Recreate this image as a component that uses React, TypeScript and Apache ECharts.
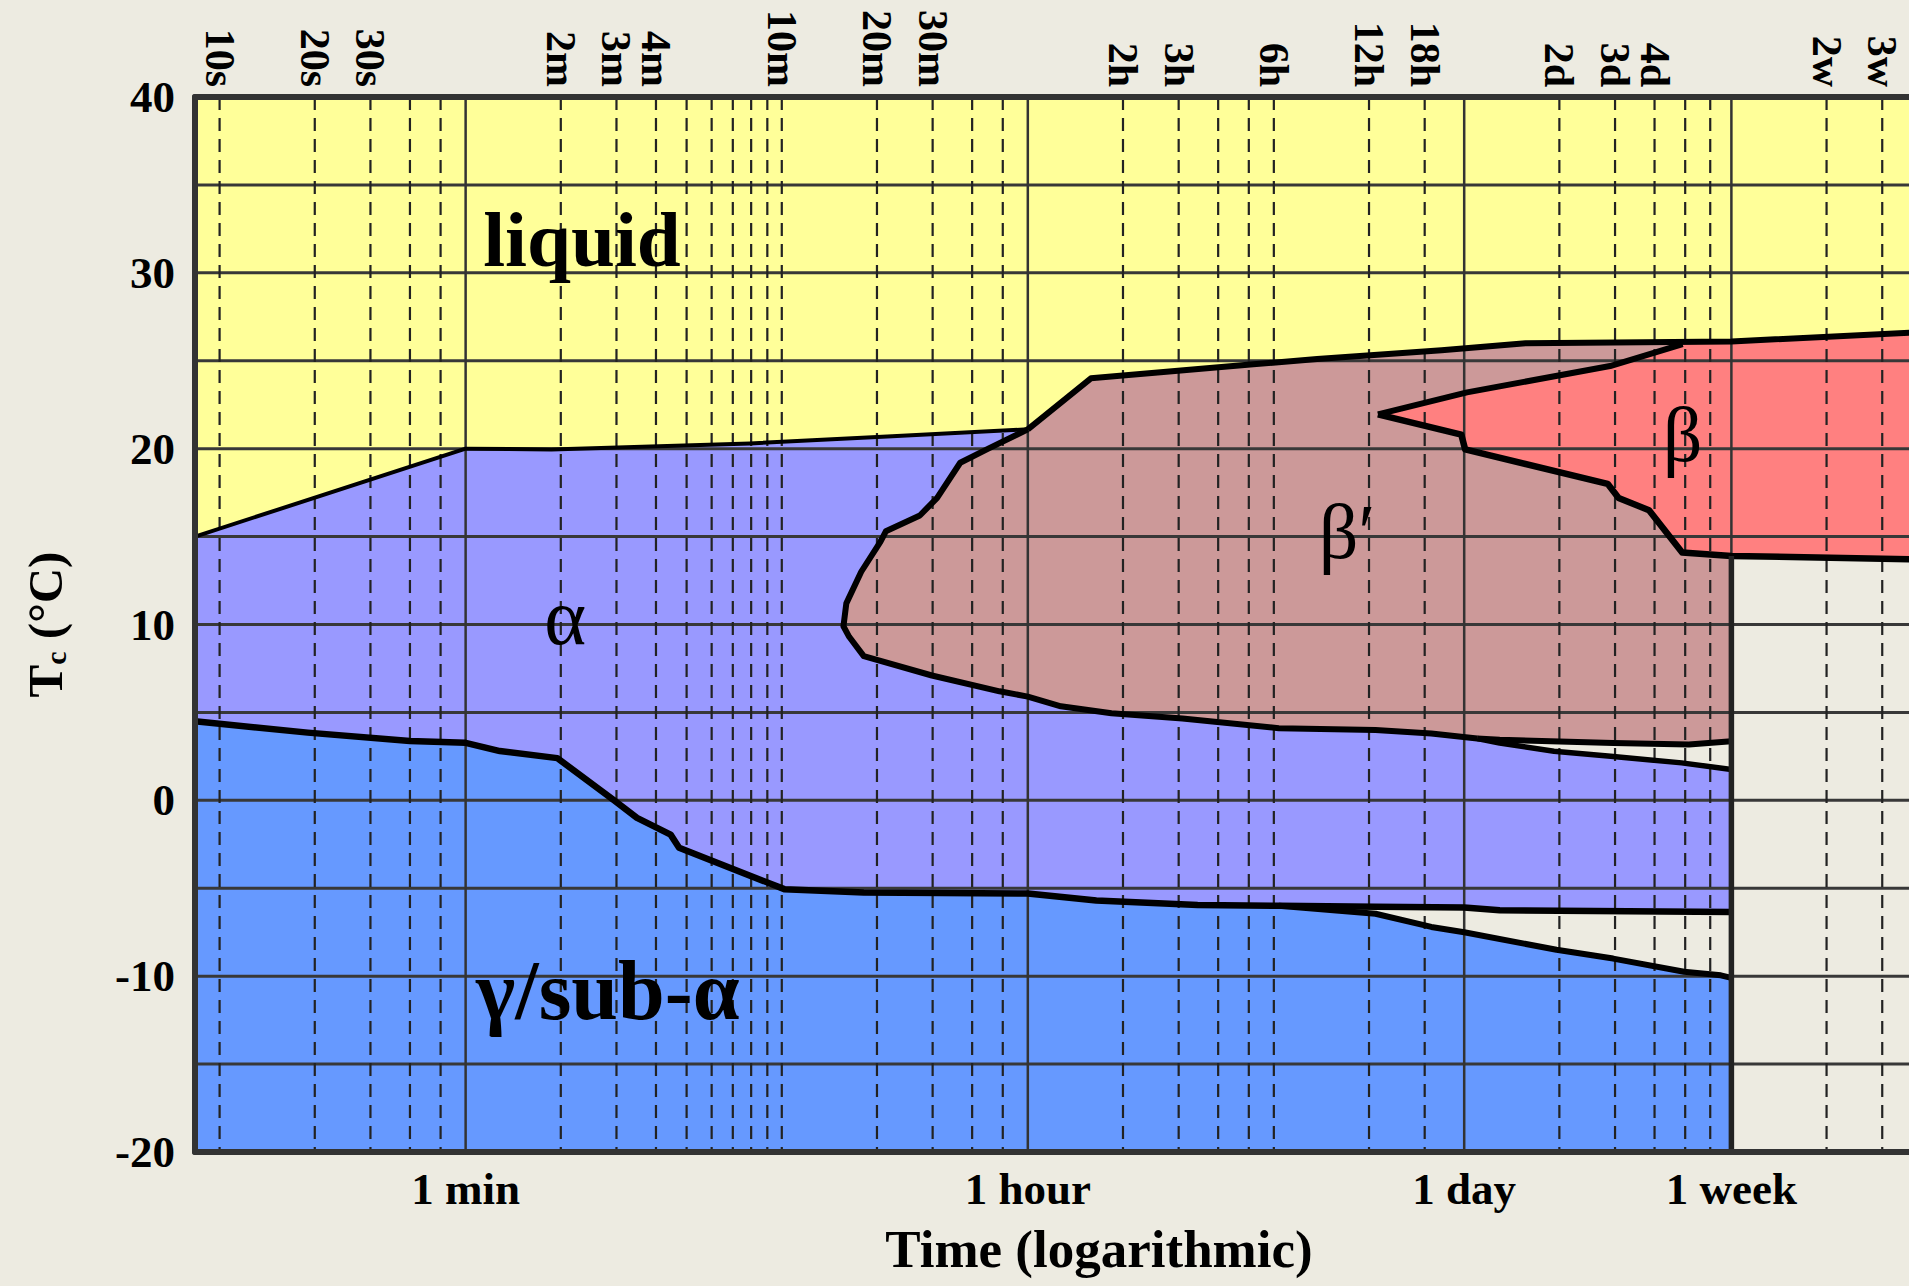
import React, { useEffect, useRef } from 'react';
import * as echarts from 'echarts';

type Pt = [number, number];

// ---------- axis ranges (time in seconds, temperature in °C)
const TIME_MIN = 8.36;
const TIME_MAX = 2.27e6;
const TEMP_MIN = -20;
const TEMP_MAX = 40;
const WEEK = 604800;

// ---------- grid / tick data
const minorGridTimes = [10, 20, 30, 40, 50, 120, 180, 240, 300, 360, 420, 480, 540, 600, 1200, 1800, 2400, 3000, 7200, 10800, 14400, 18000, 21600, 43200, 64800, 172800, 259200, 345600, 432000, 518400, 1209600, 1814400];
const majorGridTimes = [60, 3600, 86400, 604800];
const majorGridLabels = ['1 min', '1 hour', '1 day', '1 week'];
const topTickTimes = [10, 20, 30, 120, 180, 240, 600, 1200, 1800, 7200, 10800, 21600, 43200, 64800, 172800, 259200, 345600, 1209600, 1814400];
const topTickLabels = ['10s', '20s', '30s', '2m', '3m', '4m', '10m', '20m', '30m', '2h', '3h', '6h', '12h', '18h', '2d', '3d', '4d', '2w', '3w'];
const tempGridLines = [-15, -10, -5, 0, 5, 10, 15, 20, 25, 30, 35];

// ---------- phase boundaries [time s, temp °C]
const liquidAlphaLine: Pt[] = [[8.36, 15.0], [60, 20.0], [112, 19.95], [476, 20.3], [1340, 20.7], [3600, 21.1]];
const liquidSolidLine: Pt[] = [[3600, 21.1], [5700, 24.0], [18600, 24.8], [29600, 25.1], [73300, 25.6], [135000, 26.0], [604800, 26.1], [2270000, 26.6]];
const betaPrimeEdge: Pt[] = [[3600, 21.1], [2700, 20.0], [2200, 19.2], [1860, 17.2], [1640, 16.2], [1280, 15.3], [1230, 14.7], [1070, 13.0], [960, 11.2], [940, 9.9], [980, 9.3], [1090, 8.2], [1790, 7.1], [2930, 6.2], [3600, 5.9], [4580, 5.35], [6620, 4.95], [11100, 4.65], [22400, 4.1], [45300, 4.0], [68000, 3.8], [95000, 3.52]];
const betaPrimeBottom: Pt[] = [[95000, 3.52], [111900, 3.45], [255700, 3.26], [443800, 3.17], [604800, 3.36]];
const alphaTopRight: Pt[] = [[95000, 3.52], [111900, 3.26], [166200, 2.79], [251000, 2.51], [421000, 2.13], [604800, 1.75]];
const betaUpper: Pt[] = [[46100, 21.95], [88200, 23.2], [250000, 24.7], [424000, 25.95]];
const betaLower: Pt[] = [[46100, 21.95], [84600, 20.8], [87000, 19.96], [245600, 18.0], [266000, 17.2], [332000, 16.5], [422600, 14.1], [604800, 13.9], [2270000, 13.7]];
const alphaBottom: Pt[] = [[8.36, 4.5], [19, 3.85], [40, 3.37], [60, 3.27], [77, 2.8], [117, 2.4], [177, 0.0], [209, -1.0], [267, -1.95], [284, -2.7], [611, -5.05], [1090, -5.24], [3600, -5.3], [5930, -5.7], [12400, -5.95], [22400, -6.0], [45300, -6.05], [86400, -6.1], [111900, -6.25], [221900, -6.3], [604800, -6.35]];
const gammaTopRight: Pt[] = [[22400, -6.0], [45300, -6.45], [68000, -7.2], [86400, -7.5], [169200, -8.5], [255700, -9.0], [428700, -9.75], [560000, -9.95], [604800, -10.1]];

// ---------- region labels
const regionLabelTexts = ['liquid', 'α', 'β′', 'β', 'γ/sub-α'];
const regionLabelTimes = [140, 124, 36800, 424000, 169];
const regionLabelTemps = [31.9, 10.4, 15.3, 20.8, -10.8];

// ---------- styles
const SERIF = '"Liberation Serif", "Times New Roman", "DejaVu Serif", serif';
const regionLabelStyles = [
  { size: 79, weight: 'bold' },
  { size: 80, weight: 'normal' },
  { size: 78, weight: 'normal' },
  { size: 78, weight: 'normal' },
  { size: 84, weight: 'bold' },
];

const rev = (a: Pt[]): Pt[] => a.slice().reverse();

const liquidPoly: Pt[] = [[TIME_MIN, TEMP_MAX], [TIME_MAX, TEMP_MAX], ...rev(liquidSolidLine), ...rev(liquidAlphaLine)];
const alphaPoly: Pt[] = [...liquidAlphaLine, ...betaPrimeEdge, ...alphaTopRight, alphaBottom[alphaBottom.length - 1], ...rev(alphaBottom)];
const gammaPoly: Pt[] = [...alphaBottom.filter((p) => p[0] <= gammaTopRight[0][0]), ...gammaTopRight, [WEEK, TEMP_MIN], [TIME_MIN, TEMP_MIN]];
const betaPrimePoly: Pt[] = [...liquidSolidLine.filter((p) => p[0] <= WEEK), ...rev(betaPrimeBottom), ...rev(betaPrimeEdge)];
const betaPoly: Pt[] = [...betaUpper, ...liquidSolidLine.filter((p) => p[0] >= WEEK), ...rev(betaLower)];

const regionPolys = [liquidPoly, alphaPoly, gammaPoly, betaPrimePoly, betaPoly];
const regionFills = ['#FFFF99', '#9999FF', '#6699FF', '#CC9999', '#FF8080'];

const boundaryLines: { pts: Pt[]; w: number; c: string }[] = [
  { pts: liquidAlphaLine, w: 4, c: '#000' },
  { pts: liquidSolidLine, w: 6, c: '#000' },
  { pts: betaPrimeEdge, w: 6, c: '#000' },
  { pts: betaPrimeBottom, w: 6, c: '#000' },
  { pts: alphaTopRight, w: 5.5, c: '#000' },
  { pts: betaUpper, w: 6, c: '#000' },
  { pts: betaLower, w: 6.5, c: '#000' },
  { pts: alphaBottom, w: 6.5, c: '#000' },
  { pts: gammaTopRight, w: 6, c: '#000' },
  { pts: [betaLower[betaLower.length - 2], [WEEK, TEMP_MIN]], w: 5.5, c: '#222' },
];

const labelFor = (times: number[], labels: string[]) => (v: number) => {
  let best = 0;
  let bestD = Infinity;
  times.forEach((t, i) => {
    const d = Math.abs(Math.log(v / t));
    if (d < bestD) {
      bestD = d;
      best = i;
    }
  });
  return labels[best];
};

function buildOption(): any {
  const axisLineStyle = { color: '#333', width: 6 };
  return {
    animation: false,
    backgroundColor: '#EDEBE1',
    textStyle: { fontFamily: SERIF },
    grid: { left: 195, right: -4, top: 97, bottom: 134, containLabel: false, outerBoundsMode: 'none' },
    xAxis: [
      {
        type: 'log',
        logBase: 10,
        position: 'bottom',
        min: TIME_MIN,
        max: TIME_MAX,
        z: 10,
        axisLine: { show: true, onZero: false, lineStyle: axisLineStyle },
        axisTick: { show: false },
        minorTick: { show: false },
        splitLine: { show: false },
        minorSplitLine: { show: false },
        axisLabel: {
          customValues: majorGridTimes,
          formatter: labelFor(majorGridTimes, majorGridLabels),
          fontFamily: SERIF,
          fontSize: 45,
          fontWeight: 'bold',
          color: '#000',
          margin: 14,
        },
        name: 'Time (logarithmic)',
        nameLocation: 'middle',
        nameGap: 70,
        nameTextStyle: { fontFamily: SERIF, fontSize: 53, fontWeight: 'bold', color: '#000', padding: [0, 0, 0, 90] },
      },
      {
        type: 'log',
        logBase: 10,
        position: 'top',
        min: TIME_MIN,
        max: TIME_MAX,
        z: 10,
        axisLine: { show: true, onZero: false, lineStyle: axisLineStyle },
        axisTick: { show: false },
        minorTick: { show: false },
        splitLine: { show: false },
        minorSplitLine: { show: false },
        axisLabel: {
          customValues: topTickTimes,
          formatter: labelFor(topTickTimes, topTickLabels),
          rotate: 90,
          fontFamily: SERIF,
          fontSize: 42,
          lineHeight: 30,
          fontWeight: 'bold',
          color: '#000',
          margin: 10,
        },
      },
    ],
    yAxis: {
      type: 'value',
      min: TEMP_MIN,
      max: TEMP_MAX,
      interval: 10,
      z: 10,
      axisLine: { show: true, onZero: false, lineStyle: axisLineStyle },
      axisTick: { show: false },
      splitLine: { show: false },
      axisLabel: { fontFamily: SERIF, fontSize: 45, fontWeight: 'bold', color: '#000', margin: 20 },
      name: '{t|T}{s|c}{t| (°C)}',
      nameLocation: 'middle',
      nameRotate: 90,
      nameGap: 125,
      nameTextStyle: {
        rich: {
          t: { fontFamily: SERIF, fontSize: 49, fontWeight: 'bold', color: '#000' },
          s: { fontFamily: SERIF, fontSize: 30, fontWeight: 'bold', color: '#000', verticalAlign: 'bottom' },
        },
      },
    },
    series: [
      ...regionPolys.map((poly, i) => ({
        type: 'custom',
        name: 'region' + i,
        coordinateSystem: 'cartesian2d',
        xAxisIndex: 0,
        yAxisIndex: 0,
        silent: true,
        z: 2,
        data: [[poly[0][0], poly[0][1]]],
        renderItem: (_params: any, api: any) => ({
          type: 'polygon',
          shape: { points: poly.map((p) => api.coord(p)) },
          style: { fill: regionFills[i], stroke: 'none' },
        }),
      })),
      {
        type: 'custom',
        name: 'hgrid',
        coordinateSystem: 'cartesian2d',
        silent: true,
        z: 3,
        data: tempGridLines.map((t) => [TIME_MIN, t]),
        renderItem: (_params: any, api: any) => {
          const a = api.coord([TIME_MIN, api.value(1)]);
          const b = api.coord([TIME_MAX, api.value(1)]);
          return { type: 'line', shape: { x1: a[0], y1: a[1], x2: b[0], y2: b[1] }, style: { stroke: '#383838', lineWidth: 3 } };
        },
      },
      {
        type: 'custom',
        name: 'vgridMinor',
        coordinateSystem: 'cartesian2d',
        silent: true,
        z: 3,
        data: minorGridTimes.map((t) => [t, TEMP_MAX]),
        renderItem: (_params: any, api: any) => {
          const a = api.coord([api.value(0), TEMP_MAX]);
          const b = api.coord([api.value(0), TEMP_MIN]);
          return { type: 'line', shape: { x1: a[0], y1: a[1], x2: b[0], y2: b[1] }, style: { stroke: '#222', lineWidth: 2.2, lineDash: [13, 8] } };
        },
      },
      {
        type: 'custom',
        name: 'vgridMajor',
        coordinateSystem: 'cartesian2d',
        silent: true,
        z: 3,
        data: majorGridTimes.map((t) => [t, TEMP_MAX]),
        renderItem: (_params: any, api: any) => {
          const a = api.coord([api.value(0), TEMP_MAX]);
          const b = api.coord([api.value(0), TEMP_MIN]);
          return { type: 'line', shape: { x1: a[0], y1: a[1], x2: b[0], y2: b[1] }, style: { stroke: '#333', lineWidth: 2.5 } };
        },
      },
      {
        type: 'custom',
        name: 'boundaries',
        coordinateSystem: 'cartesian2d',
        silent: true,
        z: 4,
        data: boundaryLines.map((b) => [b.pts[0][0], b.pts[0][1]]),
        renderItem: (params: any, api: any) => {
          const b = boundaryLines[params.dataIndex];
          return {
            type: 'polyline',
            shape: { points: b.pts.map((p) => api.coord(p)) },
            style: { stroke: b.c, lineWidth: b.w, fill: 'none', lineJoin: 'round' },
          };
        },
      },
      {
        type: 'custom',
        name: 'labels',
        coordinateSystem: 'cartesian2d',
        silent: true,
        z: 6,
        data: regionLabelTimes.map((t, i) => [t, regionLabelTemps[i]]),
        renderItem: (params: any, api: any) => {
          const i = params.dataIndex;
          const p = api.coord([api.value(0), api.value(1)]);
          const st = regionLabelStyles[i];
          return {
            type: 'text',
            x: p[0],
            y: p[1],
            style: {
              text: regionLabelTexts[i],
              fill: '#000',
              fontFamily: SERIF,
              fontSize: st.size,
              fontWeight: st.weight,
              align: 'center',
              verticalAlign: 'middle',
            },
          };
        },
      },
    ],
  };
}

export default function App() {
  const ref = useRef<HTMLDivElement>(null);
  useEffect(() => {
    if (!ref.current) return;
    const chart = echarts.init(ref.current, undefined, { renderer: 'svg' });
    chart.setOption(buildOption());
    return () => {
      chart.dispose();
    };
  }, []);
  return <div ref={ref} style={{ position: 'absolute', left: 0, top: 0, width: 1909, height: 1286 }} />;
}
